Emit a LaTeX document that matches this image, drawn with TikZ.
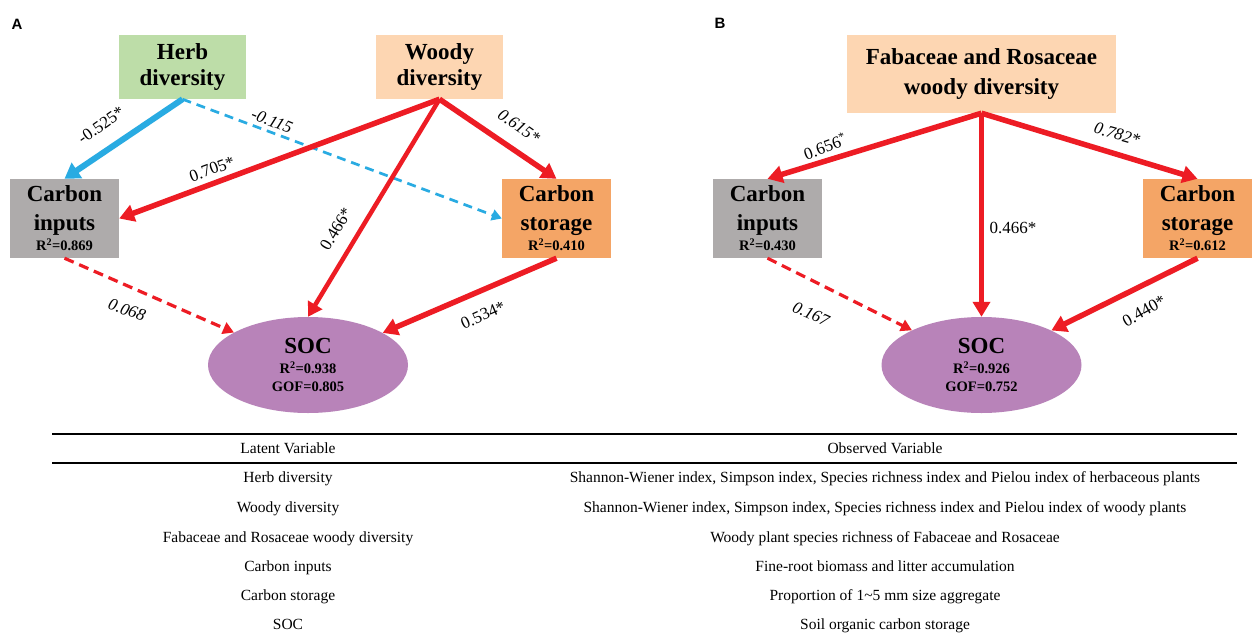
\documentclass[tikz,border=0pt]{standalone}
\usepackage{fontspec}
\setmainfont{Liberation Serif}
\newfontfamily\panelfont{Liberation Sans}
\usetikzlibrary{arrows.meta,shapes.geometric}
\definecolor{cred}{HTML}{ED1C24}
\definecolor{cblue}{HTML}{29ABE2}
\definecolor{cgreen}{HTML}{BDDDA8}
\definecolor{cpeach}{HTML}{FDD6B2}
\definecolor{cgray}{HTML}{AEABAB}
\definecolor{corange}{HTML}{F4A566}
\definecolor{cpurple}{HTML}{B883B9}
\begin{document}
\begin{tikzpicture}[x=1pt,y=-1pt,
  topbox/.style={draw=none,inner sep=0pt,align=center,font=\fontsize{23}{26}\selectfont\bfseries,minimum width=127pt,minimum height=64pt},
  midbox/.style={draw=none,inner sep=0pt,align=center,font=\fontsize{23}{29}\selectfont\bfseries,minimum width=109pt,minimum height=79pt},
  socnode/.style={ellipse,fill=cpurple,inner sep=0pt,minimum width=200pt,minimum height=96pt,align=center,font=\fontsize{14.5}{18}\selectfont\bfseries},
  redthick/.style={draw=cred,line width=5.5pt,-{Triangle[length=15pt,width=17pt]}},
  redmid/.style={draw=cred,line width=4.5pt,-{Triangle[length=14pt,width=16pt]}},
  reddash/.style={draw=cred,line width=3.2pt,dash pattern=on 10pt off 6pt,-{Triangle[length=11pt,width=12pt]}},
  bluethick/.style={draw=cblue,line width=6pt,-{Triangle[length=15pt,width=18pt]}},
  bluedash/.style={draw=cblue,line width=2.7pt,dash pattern=on 9pt off 6pt,-{Triangle[length=10pt,width=11pt]}},
  lab/.style={font=\fontsize{17}{17}\selectfont,inner sep=0pt},
  ilab/.style={font=\fontsize{17}{17}\selectfont\itshape,inner sep=0pt},
  tab/.style={font=\fontsize{15.5}{15.5}\selectfont,inner sep=0pt,text height=11pt,text depth=3.5pt},
  panel/.style={font=\panelfont\fontsize{15}{15}\selectfont\bfseries,inner sep=0pt}
]
\fill[white] (0,0) rectangle (1255,635);
\useasboundingbox (0,0) rectangle (1255,635);

% ---------- Panel A ----------
\node[panel] (pA) at (17,24) {A};
\node[topbox,fill=cgreen] (herb) at (182.5,67) {Herb\\diversity};
\node[topbox,fill=cpeach] (woody) at (439.5,67) {Woody\\diversity};
\node[midbox,fill=cgray] (ci) at (64.5,218.5) {Carbon\\inputs\\[-9pt]{\fontsize{14.5}{14.5}\selectfont R\textsuperscript{2}=0.869}};
\node[midbox,fill=corange] (cs) at (556.5,218.5) {Carbon\\storage\\[-9pt]{\fontsize{14.5}{14.5}\selectfont R\textsuperscript{2}=0.410}};
\node[socnode] (soc) at (308,365) {{\fontsize{23}{23}\selectfont SOC}\\[2pt]R\textsuperscript{2}=0.938\\GOF=0.805};

\draw[bluedash] (herb.south) -- (cs.west);
\draw[bluethick] (herb.south) -- (ci.north);
\draw[redthick] (woody.south) -- (ci.east);
\draw[redmid] (woody.south) -- (soc.north);
\draw[redthick] (woody.south) -- (cs.north);
\draw[reddash] (ci.south) -- (soc);
\draw[redthick] (cs.south) -- (soc);

\node[lab,rotate=35] (l1) at (101,125) {-0.525*};
\node[ilab,rotate=-22] (l2) at (272,121) {-0.115};
\node[lab,rotate=20] (l3) at (212,169) {0.705*};
\node[ilab,rotate=-35] (l4) at (519,126) {0.615*};
\node[lab,rotate=59] (l5) at (336,229) {0.466*};
\node[ilab,rotate=-20] (l6) at (127,310) {0.068};
\node[lab,rotate=24] (l7) at (483,315) {0.534*};

% ---------- Panel B ----------
\node[panel] (pB) at (720,23) {B};
\node[topbox,fill=cpeach,minimum width=269pt,minimum height=78pt,font=\fontsize{23}{29}\selectfont\bfseries] (fab) at (981.5,74) {Fabaceae and Rosaceae\\woody diversity};
\node[midbox,fill=cgray] (ci2) at (767.5,218.5) {Carbon\\inputs\\[-9pt]{\fontsize{14.5}{14.5}\selectfont R\textsuperscript{2}=0.430}};
\node[midbox,fill=corange] (cs2) at (1197.5,218.5) {Carbon\\storage\\[-9pt]{\fontsize{14.5}{14.5}\selectfont R\textsuperscript{2}=0.612}};
\node[socnode] (soc2) at (981.5,365) {{\fontsize{23}{23}\selectfont SOC}\\[2pt]R\textsuperscript{2}=0.926\\GOF=0.752};

\draw[redthick] (fab.south) -- (ci2.north);
\draw[redthick] (fab.south) -- (cs2.north);
\draw[redthick] (fab.south) -- (soc2.north);
\draw[reddash] (ci2.south) -- (soc2);
\draw[redthick] (cs2.south) -- (soc2);

\node[lab,rotate=20] (m1) at (825,146) {0.656\textsuperscript{*}};
\node[ilab,rotate=-16] (m2) at (1117,134) {0.782*};
\node[lab] (m3) at (1013,228) {0.466*};
\node[ilab,rotate=-24] (m4) at (811,314) {0.167};
\node[lab,rotate=29] (m5) at (1144,311) {0.440*};

% ---------- Table ----------
\coordinate (t1l) at (52,434); \coordinate (t1r) at (1237,434);
\coordinate (t2l) at (52,463); \coordinate (t2r) at (1237,463);
\draw[line width=2.5pt] (t1l) -- (t1r);
\draw[line width=1.8pt] (t2l) -- (t2r);
\node[tab] (h1) at (288,450) {Latent Variable};
\node[tab] (h2) at (885,450) {Observed Variable};
\node[tab] (r1a) at (288,479) {Herb diversity};
\node[tab] (r1b) at (885,479) {Shannon-Wiener index, Simpson index, Species richness index and Pielou index of herbaceous plants};
\node[tab] (r2a) at (288,509) {Woody diversity};
\node[tab] (r2b) at (885,509) {Shannon-Wiener index, Simpson index, Species richness index and Pielou index of woody plants};
\node[tab] (r3a) at (288,539) {Fabaceae and Rosaceae woody diversity};
\node[tab] (r3b) at (885,539) {Woody plant species richness of Fabaceae and Rosaceae};
\node[tab] (r4a) at (288,568) {Carbon inputs};
\node[tab] (r4b) at (885,568) {Fine-root biomass and litter accumulation};
\node[tab] (r5a) at (288,597) {Carbon storage};
\node[tab] (r5b) at (885,597) {Proportion of 1\textasciitilde 5 mm size aggregate};
\node[tab] (r6a) at (288,626) {SOC};
\node[tab] (r6b) at (885,626) {Soil organic carbon storage};
\end{tikzpicture}
\end{document}
